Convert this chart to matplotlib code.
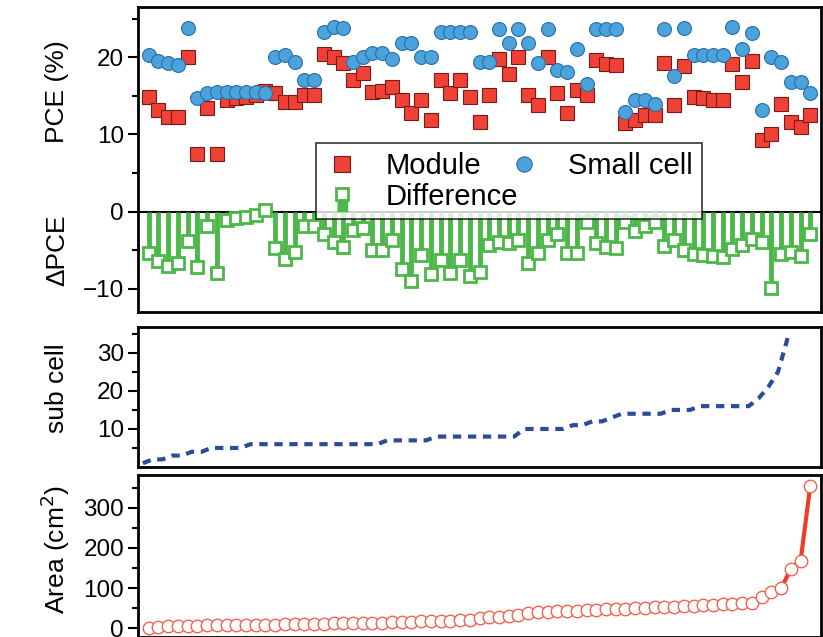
import numpy as np
import matplotlib
matplotlib.use('Agg')
import matplotlib.pyplot as plt
from matplotlib.lines import Line2D
from matplotlib.legend_handler import HandlerTuple

plt.rcParams['font.family'] = ['Liberation Sans', 'DejaVu Sans']

# PCE of modules and of the matching small cells (%)
module = [14.9, 13.1, 12.2, 12.3, 20.0, 7.5, 13.4, 7.5, 14.4, 14.7,
          14.8, 15.1, 15.6, 15.3, 14.2, 14.2, 15.1, 15.1, 20.4, 20.0,
          19.2, 17.0, 17.9, 15.5, 15.6, 16.1, 14.4, 12.8, 14.4, 11.9,
          17.0, 15.3, 17.0, 14.9, 11.6, 15.1, 19.8, 17.8, 20.0, 15.1,
          13.8, 20.0, 15.4, 12.8, 15.7, 15.1, 19.6, 19.1, 19.0, 11.5,
          11.9, 12.5, 12.5, 19.2, 13.8, 18.8, 14.8, 14.7, 14.5, 14.4,
          19.1, 16.8, 19.5, 9.3, 10.1, 13.9, 11.6, 11.0, 12.5]
small_cell = [20.3, 19.5, 19.3, 19.0, 23.8, 14.7, 15.3, 15.5, 15.5, 15.5,
              15.5, 15.5, 15.4, 20.0, 20.3, 19.4, 17.0, 17.0, 23.3, 23.9,
              23.8, 19.4, 20.0, 20.5, 20.6, 19.8, 21.8, 21.8, 20.0, 20.0,
              23.3, 23.3, 23.3, 23.3, 19.4, 19.4, 23.7, 21.8, 23.7, 21.8,
              19.2, 23.7, 18.3, 18.1, 21.1, 16.5, 23.7, 23.7, 23.7, 12.9,
              14.4, 14.4, 13.9, 23.7, 17.5, 23.8, 20.3, 20.3, 20.3, 20.3,
              23.9, 21.1, 23.1, 13.2, 20.0, 19.4, 16.8, 16.8, 15.4]
difference = [-5.4, -6.4, -7.1, -6.7, -3.8, -7.2, -1.9, -8.0, -1.1, -0.8,
              -0.7, -0.4, 0.2, -4.7, -6.1, -5.2, -1.9, -1.9, -2.9, -3.9,
              -4.6, -2.4, -2.1, -5.0, -5.0, -3.7, -7.4, -9.0, -5.6, -8.1,
              -6.3, -8.0, -6.3, -8.4, -7.8, -4.3, -3.9, -4.0, -3.7, -6.7,
              -5.4, -3.7, -2.9, -5.3, -5.4, -1.4, -4.1, -4.6, -4.7, -1.4,
              -2.5, -1.9, -1.4, -4.5, -3.7, -5.0, -5.5, -5.6, -5.8, -5.9,
              -4.8, -4.3, -3.6, -3.9, -9.9, -5.5, -5.2, -5.8, -2.9]

# number of sub cells per module
sub_cell = [1, 2, 2, 3, 3, 4, 4, 5, 5, 5, 5, 6, 6, 6, 6, 6, 6, 6, 6, 6,
            6, 6, 6, 6, 6, 7, 7, 7, 7, 7, 8, 8, 8, 8, 8, 8, 8, 8, 8, 10,
            10, 10, 10, 10, 11, 11, 12, 12, 13, 14, 14, 14, 14, 14, 15, 15, 15, 16,
            16, 16, 16, 16, 16, 18, 21, 25, 34]

# module area (cm2)
area = [1, 4, 5, 6, 6, 6, 7, 7, 7, 8, 8, 8, 9, 9, 10, 10, 10, 11, 11, 12,
        12, 13, 13, 14, 14, 15, 16, 16, 17, 17, 18, 19, 20, 21, 25, 27, 28, 30,
        33, 37, 40, 41, 42, 43, 44, 45, 46, 47, 48, 49, 50, 51, 52, 53, 54, 55,
        56, 57, 58, 60, 61, 62, 64, 78, 90, 99, 148, 168, 355]

red = '#ef4136'
blue = '#4ba3dc'
green = '#4cb849'

x = np.arange(len(module))
xs = np.arange(len(sub_cell))
xa = np.arange(len(area))

W, H = 823, 637
fig = plt.figure(figsize=(W / 100, H / 100), dpi=100)


def box(l, t, r, b):
    return [l / W, 1 - b / H, (r - l) / W, (b - t) / H]


ax1 = fig.add_axes(box(138, 7, 821, 312))
ax2 = fig.add_axes(box(138, 327, 821, 467))
ax3 = fig.add_axes(box(138, 475, 821, 637))

# top panel: PCE and difference
ax1.axhline(0, color='black', lw=1.5, zorder=1)
ax1.vlines(x, 0, difference, color=green, lw=3.5, zorder=2)
ax1.plot(x, difference, 's', ms=8, mfc='white', mec=green, mew=2, zorder=3)
ax1.plot(x, module, 's', ms=10, color=red, mec='#7a1a14', mew=0.8, zorder=4)
ax1.plot(x, small_cell, 'o', ms=10, color=blue, mec='#2a6ea8', mew=0.8, zorder=5)
ax1.set_xlim(-1.1, 69.1)
ax1.set_ylim(-13, 26.5)
ax1.set_yticks([-10, 0, 10, 20])
ax1.set_yticks([-5, 5, 15, 25], minor=True)

h_mod = Line2D([], [], ls='none', marker='s', ms=11, color=red, mec='#7a1a14', mew=0.8)
h_sc = Line2D([], [], ls='none', marker='o', ms=11, color=blue, mec='#2a6ea8', mew=0.8)
h_bar = Line2D([], [], ls='none', color=green, mec=green, ms=24,
               marker=[(-0.3, -1), (0.3, -1), (0.3, 0), (-0.3, 0)])
h_sq = Line2D([], [], ls='none', marker='s', ms=8, mfc='white', mec=green, mew=2)
leg = ax1.legend([h_mod, (h_bar, h_sq), h_sc], ['Module', 'Difference', 'Small cell'],
                 handler_map={tuple: HandlerTuple(ndivide=1)},
                 ncol=2, loc='upper left', bbox_to_anchor=(316 / W, 1 - 143 / H),
                 bbox_transform=fig.transFigure, fontsize=21, frameon=True,
                 fancybox=False, edgecolor='black', handlelength=1.2,
                 handletextpad=0.9, columnspacing=-0.4, borderpad=0.3,
                 labelspacing=0.1, borderaxespad=0)
leg.get_frame().set_linewidth(1.2)

# middle panel: sub cells
ax2.plot(xs, sub_cell, color='#2a4d9b', lw=3, ls=(0, (2, 1.6)))
ax2.set_xlim(-0.5, 69.4)
ax2.set_ylim(0, 36.8)
ax2.set_yticks([10, 20, 30])
ax2.set_yticks([5, 15, 25, 35], minor=True)

# bottom panel: area
ax3.plot(xa, area, '-o', color='#f03c28', lw=3, ms=9, mfc='white',
         mec='#f06450', mew=1)
ax3.set_xlim(-1.1, 69.1)
ax3.set_ylim(-22, 382)
ax3.set_yticks([0, 100, 200, 300])
ax3.set_yticks([50, 150, 250, 350], minor=True)

for ax in (ax1, ax2, ax3):
    ax.set_xticks([])
    for s in ax.spines.values():
        s.set_linewidth(2)
    ax.tick_params(axis='y', which='major', length=7, width=1.5, labelsize=17.5, pad=3)
    ax.tick_params(axis='y', which='minor', length=4, width=1.5)

fig.text(57 / W, 1 - 92 / H, 'PCE (%)', rotation=90, ha='center', va='center', fontsize=19)
fig.text(57 / W, 1 - 250 / H, '\u0394PCE', rotation=90, ha='center', va='center', fontsize=19)
fig.text(57 / W, 1 - 388 / H, 'sub cell', rotation=90, ha='center', va='center', fontsize=19)
fig.text(55 / W, 1 - 550 / H, 'Area (cm$^2$)', rotation=90, ha='center', va='center', fontsize=19)

fig.savefig('out.png', dpi=100)
